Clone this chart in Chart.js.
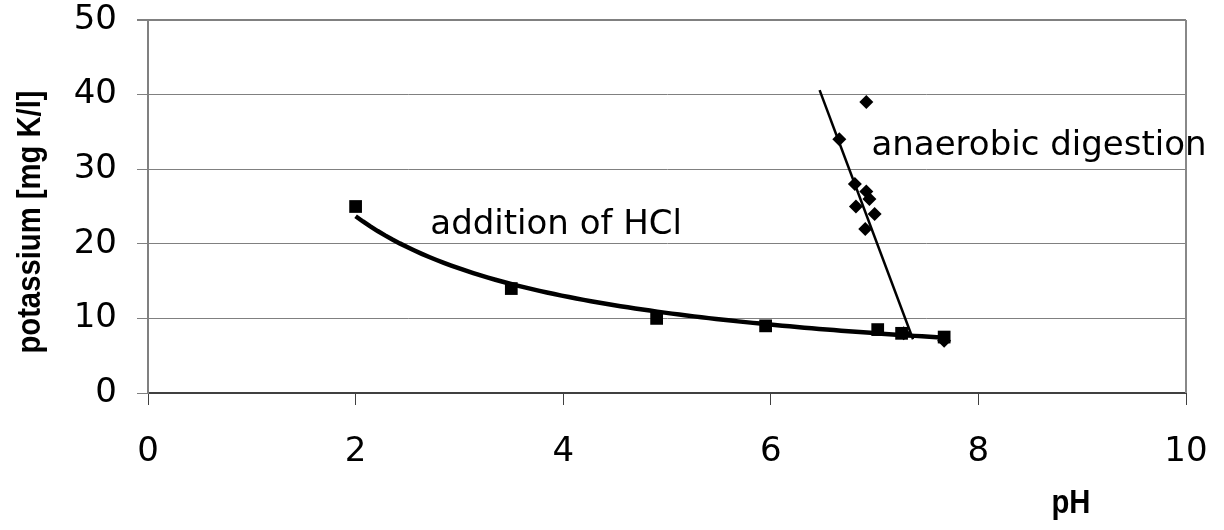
<!DOCTYPE html>
<html>
<head>
<meta charset="utf-8">
<script src="https://cdn.jsdelivr.net/npm/chart.js@4"></script>
<style>
  html, body { margin: 0; padding: 0; background: #fff; }
  #wrap { width: 1224px; height: 530px; }
</style>
</head>
<body>
<div id="wrap"><canvas id="kChart" width="1224" height="530"></canvas></div>
<script>
// Kalium gegen pH: Säurezugabe und anaerobe Vergärung
const hclPH = [2.0, 3.5, 4.9, 5.95, 7.03, 7.26, 7.67];
const hclK = [25, 14, 10, 9, 8.5, 8.0, 7.5];

const adPH = [6.66, 6.92, 6.81, 6.92, 6.95, 6.82, 7.0, 6.91, 7.28, 7.67];
const adK = [34, 39, 28, 27, 26, 25, 24, 22, 8.0, 7.0];

// lineare Trendlinie (Endpunkte)
const adTrendPH = [6.47, 7.37];
const adTrendK = [40.6, 7.2];

const xTicks = [0, 2, 4, 6, 8, 10];
const yTicks = [0, 10, 20, 30, 40, 50];

const FONT = "'DejaVu Sans', sans-serif";
const BOLD = "'Liberation Sans', Arial, sans-serif";

// Potenzfit y = a * x^b (wie Excel-Trendlinie)
function powerFit(xs, ys) {
  const lx = xs.map(Math.log), ly = ys.map(Math.log);
  const n = xs.length;
  const mx = lx.reduce((a, b) => a + b, 0) / n;
  const my = ly.reduce((a, b) => a + b, 0) / n;
  let sxy = 0, sxx = 0;
  for (let i = 0; i < n; i++) {
    sxy += (lx[i] - mx) * (ly[i] - my);
    sxx += (lx[i] - mx) * (lx[i] - mx);
  }
  const b = sxy / sxx;
  const a = Math.exp(my - b * mx);
  return x => a * Math.pow(x, b);
}

const fit = powerFit(hclPH, hclK);
const xMin = Math.min(...hclPH), xMax = Math.max(...hclPH);
const hclCurve = [];
for (let i = 0; i <= 80; i++) {
  const x = xMin + (xMax - xMin) * i / 80;
  hclCurve.push({ x: x, y: fit(x) });
}

const pts = (xs, ys) => xs.map((x, i) => ({ x: x, y: ys[i] }));

// schmale fette Schrift (Narrow-Ersatz über horizontale Stauchung)
function narrowText(ctx, text, x, y, rot) {
  ctx.save();
  ctx.translate(x, y);
  if (rot) ctx.rotate(rot);
  ctx.scale(0.86, 1);
  ctx.fillText(text, 0, 0);
  ctx.restore();
}

// Beschriftungen und rechter Rahmen
const labelsPlugin = {
  id: 'labels',
  afterDatasetsDraw(chart) {
    const { ctx, chartArea, scales } = chart;
    const xs = scales.x, ys = scales.y;
    ctx.save();
    // rechter Rand der Zeichenfläche
    ctx.strokeStyle = '#888';
    ctx.lineWidth = 2;
    ctx.beginPath();
    ctx.moveTo(chartArea.right, chartArea.top);
    ctx.lineTo(chartArea.right, chartArea.bottom);
    ctx.stroke();

    ctx.fillStyle = '#000';
    ctx.font = '34px ' + FONT;
    ctx.textBaseline = 'alphabetic';
    ctx.textAlign = 'left';
    ctx.fillText('addition of HCl', xs.getPixelForValue(2.72), ys.getPixelForValue(21.3));
    ctx.fillText('anaerobic digestion', xs.getPixelForValue(6.97), ys.getPixelForValue(31.9));

    // Achsentitel
    ctx.font = 'bold 34px ' + BOLD;
    ctx.textAlign = 'center';
    ctx.textBaseline = 'alphabetic';
    narrowText(ctx, 'pH', 1071, 513, 0);
    ctx.textBaseline = 'middle';
    narrowText(ctx, 'potassium [mg K/l]', 31, 222, -Math.PI / 2);
    ctx.restore();
  }
};

new Chart(document.getElementById('kChart').getContext('2d'), {
  type: 'scatter',
  data: {
    datasets: [
      {
        label: 'addition of HCl',
        data: pts(hclPH, hclK),
        pointStyle: 'rect',
        pointRadius: 9,
        backgroundColor: '#000',
        borderColor: '#000',
        borderWidth: 0
      },
      {
        label: 'HCl trend',
        data: hclCurve,
        showLine: true,
        pointRadius: 0,
        borderColor: '#000',
        borderWidth: 4.5,
        tension: 0
      },
      {
        label: 'anaerobic digestion',
        data: pts(adPH, adK),
        pointStyle: 'rectRot',
        pointRadius: 7,
        backgroundColor: '#000',
        borderColor: '#000',
        borderWidth: 0
      },
      {
        label: 'digestion trend',
        data: pts(adTrendPH, adTrendK),
        showLine: true,
        pointRadius: 0,
        borderColor: '#000',
        borderWidth: 2.5
      }
    ]
  },
  options: {
    responsive: false,
    animation: false,
    layout: { padding: { top: 20, right: 38, left: 0, bottom: 0 } },
    plugins: {
      legend: { display: false },
      tooltip: { enabled: false }
    },
    scales: {
      x: {
        type: 'linear',
        min: 0,
        max: 10,
        afterBuildTicks: s => { s.ticks = xTicks.map(v => ({ value: v })); },
        afterFit: s => { s.height = 137; s.paddingLeft = 0; s.paddingRight = 0; },
        border: { color: '#404040', width: 2 },
        grid: { drawOnChartArea: false, tickLength: 12, color: '#404040', lineWidth: 1 },
        ticks: { color: '#000', font: { family: FONT, size: 34 }, padding: 27 }
      },
      y: {
        type: 'linear',
        min: 0,
        max: 50,
        afterBuildTicks: s => { s.ticks = yTicks.map(v => ({ value: v })); },
        afterFit: s => { s.width = 148; s.paddingTop = 0; s.paddingBottom = 0; },
        border: { color: '#808080', width: 2 },
        grid: {
          tickLength: 11,
          color: '#808080',
          lineWidth: c => (c.tick && c.tick.value === 50 ? 2 : 1)
        },
        ticks: { color: '#000', font: { family: FONT, size: 34 }, padding: 20 }
      }
    }
  },
  plugins: [labelsPlugin]
});
</script>
</body>
</html>
